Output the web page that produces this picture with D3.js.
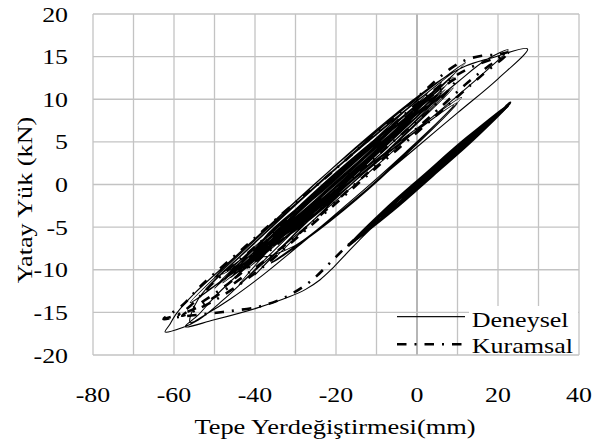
<!DOCTYPE html>
<html>
<head>
<meta charset="utf-8">
<script src="https://cdn.jsdelivr.net/npm/d3@7"></script>
<style>
  body { margin: 0; background: #fff; }
</style>
</head>
<body>
<div id="chart"></div>
<script>
// Axis values
const xGridValues = [-80, -70, -60, -50, -40, -30, -20, -10, 0, 10, 20, 30, 40];
const xTickLabels = [-80, -60, -40, -20, 0, 20, 40];
const yTickLabels = [-20, -15, -10, -5, 0, 5, 10, 15, 20];

// Deneysel (experimental): early small cycles, then push to negative side
const deneyselBand = [
  [0, -0.1], [8, 3.5], [14, 5.75],
  [8, 2.95], [0, -0.4], [-8, -3.75], [-12, -5.11],
  [-5, -1.85], [5, 2.3], [14, 6.05], [18, 7.42],
  [10, 3.8], [0, -0.4], [-10, -4.55], [-14, -5.95],
  [-5, -1.85], [5, 2.3], [15, 6.45], [21, 8.67],
  [12, 4.6], [0, -0.45], [-10, -4.6], [-16, -6.78],
  [-6, -2.25], [6, 2.75], [16, 6.9], [23, 9.5],
  [14, 5.4], [2, 0.4], [-8, -3.8], [-17, -7.2],
  [-8, -3.0], [2, 1.2], [12, 5.35], [23, 9.5],
  [14, 5.3], [4, 1.1], [-6, -3.05], [-17, -7.2],
  [-8, -2.9], [2, 1.3], [12, 5.45], [23, 9.5],
  [14, 5.2], [4, 1.0], [-6, -3.15], [-17, -7.2],
  [-8, -3.25], [2, 0.95], [12, 5.1], [23, 9.5],
  [12, 4.7], [2, 0.5], [-8, -3.65], [-17, -7.2],
  [-8, -3.35], [2, 0.85], [12, 5.0], [22.8, 9.45],
  [12, 4.8], [2, 0.6], [-8, -3.55], [-17, -7.2],
  [-7, -2.7], [5, 2.35], [15, 6.5], [22.5, 9.29],
  [13, 5.0], [0, -0.45], [-10.8, -4.95]
];
const deneyselBackbone = [
  [-15, -6.9], [-18, -8.4], [-21, -9.9], [-24, -11.2], [-27.5, -12.3],
  [-31.4, -13.15], [-39.6, -14.5], [-50.3, -15.9], [-57.3, -16.7]
];
const deneyselCycles = [
  [[-54, -15.3], [-50, -13.2], [-40, -8.7], [-30, -4.4], [-20, -0.2], [-10, 3.9], [0, 8.0], [10, 12.0], [17, 14.6], [22.5, 15.8],
   [17, 13.3], [10, 10.4], [0, 6.4], [-10, 2.2], [-20, -1.9], [-30, -6.0], [-40, -10.1], [-48, -13.6], [-54, -15.9], [-58, -16.8], [-62.2, -17.3]],
  [[-61, -16.4], [-59.5, -15.2], [-55, -12.8], [-45, -8.5], [-35, -4.2], [-26, -0.3], [-15, 4.4], [-5, 8.4], [5, 12.0], [12, 13.9], [18, 14.8], [27.3, 15.9],
   [20, 12.4], [10, 8.4], [0, 4.4], [-10, 0.4], [-20, -3.6], [-29, -7.1], [-38, -10.6], [-46, -13.4], [-52, -15.2], [-56, -16.2]],
  [[-54, -13.44], [-38, -5.95], [-22, 1.1], [-6, 7.49], [10, 13.44], [-6, 5.95], [-22, -1.1], [-38, -7.49]],
  [[-56, -13.86], [-39, -6.09], [-22, 1.05], [-5, 8.19], [12, 14.3], [-5, 6.93], [-22, -0.21], [-39, -7.35]],
  [[-50, -12.18], [-35.25, -5.29], [-20.5, 1.21], [-5.75, 7.11], [9, 12.6], [-5.75, 5.71], [-20.5, -0.79], [-35.25, -6.69]],
  [[-48, -11.55], [-34.25, -5.22], [-20.5, 0.8], [-6.75, 6.34], [7, 11.55], [-6.75, 5.22], [-20.5, -0.8], [-34.25, -6.34]],
  [[-46, -10.92], [-33, -4.83], [-20, 0.9], [-7, 6.09], [6, 10.92], [-7, 4.83], [-20, -0.9], [-33, -6.09]],
  [[-52, -12.39], [-37.5, -5.74], [-23, 0.59], [-8.5, 6.44], [6, 11.97], [-8.5, 5.32], [-23, -1.01], [-37.5, -6.86]],
  [[-45, -9.87], [-32.75, -4.31], [-20.5, 1.02], [-8.25, 5.99], [4, 10.71], [-8.25, 5.15], [-20.5, -0.18], [-32.75, -5.15]],
  [[-47, -10.92], [-34, -5.18], [-21, 0.4], [-8, 5.74], [5, 10.92], [-8, 5.18], [-21, -0.4], [-34, -5.74]],
  [[-48, -10.5], [-35.25, -4.66], [-22.5, 0.91], [-9.75, 6.06], [3, 10.92], [-9.75, 5.08], [-22.5, -0.49], [-35.25, -5.64]],
  [[-44, -10.29], [-31.5, -4.72], [-19, 0.66], [-6.5, 5.78], [6, 10.71], [-6.5, 5.14], [-19, -0.24], [-31.5, -5.36]],
  [[-44, -10.5], [-31.75, -4.8], [-19.5, 0.59], [-7.25, 5.5], [5, 10.08], [-7.25, 4.38], [-19.5, -1.01], [-31.75, -5.92]],
  [[-46, -10.08], [-33.5, -4.48], [-21, 0.92], [-8.5, 6.02], [4, 10.92], [-8.5, 5.32], [-21, -0.08], [-33.5, -5.18]],
  [[-50, -10.92], [-37, -5.04], [-24, 0.6], [-11, 5.88], [2, 10.92], [-11, 5.04], [-24, -0.6], [-37, -5.88]],
  [[-42, -9.24], [-30.75, -4.24], [-19.5, 0.61], [-8.25, 5.22], [3, 9.66], [-8.25, 4.66], [-19.5, -0.19], [-30.75, -4.8]],
  [[-49, -11.55], [-35, -5.32], [-21, 0.71], [-7, 6.44], [7, 11.97], [-7, 5.74], [-21, -0.29], [-35, -6.02]],
  [[-43, -9.87], [-30.5, -4.2], [-18, 1.23], [-5.5, 6.3], [7, 11.13], [-5.5, 5.46], [-18, 0.03], [-30.5, -5.04]],
  [[-40, -9.03], [-28.5, -3.88], [-17, 1.08], [-5.5, 5.78], [6, 10.29], [-5.5, 5.14], [-17, 0.18], [-28.5, -4.52]],
  [[-42, -9.87], [-29.5, -3.99], [-17, 1.53], [-4.5, 6.51], [8, 11.13], [-4.5, 5.25], [-17, -0.27], [-29.5, -5.25]],
  [[-41, -8.61], [-29.75, -3.54], [-18.5, 1.34], [-7.25, 5.92], [4, 10.29], [-7.25, 5.22], [-18.5, 0.34], [-29.75, -4.24]],
  [[-44, -11.8], [-30.25, -5.4], [-16.5, 0.4], [-2.75, 5.6], [11, 10.2], [-2.75, 3.8], [-16.5, -2.0], [-30.25, -7.2]],
  [[-38, -8.4], [-26.75, -3.19], [-14.5, 2.17], [-2.25, 7.11], [9, 11.34], [-2.25, 6.13], [-14.5, 0.77], [-26.75, -4.17]],
  [[-40, -10.6], [-27.5, -4.6], [-15, 0.8], [-2.5, 5.5], [10, 9.6], [-2.5, 3.6], [-15, -1.8], [-27.5, -6.5]],
  [[-36, -9.2], [-24.75, -3.8], [-13.5, 1.15], [-2.25, 5.5], [9, 9.3], [-2.25, 3.9], [-13.5, -1.05], [-24.75, -5.4], [-36, -9.2]]
];

// Kuramsal (theoretical)
const kuramsalBand = [
  [0, -0.1], [12, 4.9], [23, 9.5], [10, 4.0], [0, -0.3], [-10, -4.4], [-17, -7.2],
  [-8, -3.4], [4, 1.6], [16, 6.6], [23, 9.6], [12, 4.8], [0, -0.3], [-12, -5.2], [-17, -7.1],
  [-6, -2.6], [6, 2.5], [18, 7.5], [23, 9.5], [14, 5.6], [2, 0.6], [-10, -4.5], [-17, -7.1]
];
const kuramsalBackbone = [
  [-21.5, -9.2], [-26.4, -11.4], [-32.2, -13.15], [-38.8, -14.3], [-47, -14.9],
  [-54.4, -15.3], [-60, -15.6], [-62.6, -15.8]
];
const kuramsalCycles = [
  [[-58, -14.2], [-53.6, -12], [-42, -7.1], [-30.5, -2.3], [-24.5, 0], [-9, 6.5], [0, 10.2], [8, 13.5], [12, 14.6], [16, 15.1], [20, 15.25], [22.5, 15.5],
   [18, 14.0], [12.6, 12.0], [5, 8.7], [0, 6.6], [-15.4, 0], [-30, -6.1], [-42, -10.5], [-50, -13.2], [-56, -14.8], [-62, -15.7]],
  [[-58, -15.0], [-50, -11.4], [-40, -7.3], [-30, -3.1], [-22.5, 0], [-10, 5.2], [0, 9.5], [8, 12.3], [14, 13.9], [20, 14.9], [22, 15.2],
   [16, 12.8], [10, 10.3], [0, 6.1], [-10, 2.0], [-20, -2.2], [-30, -6.4], [-40, -10.4], [-50, -13.6], [-58, -15.4]],
  [[-45, -11], [-35, -5.5], [-20, 0.9], [-5, 7.0], [5, 10.9], [10, 12.5], [5, 9.6], [-5, 5.4], [-20, -0.9], [-35, -7.2], [-45, -11]]
];

const legendItems = ["Deneysel", "Kuramsal"];

// Layout
const W = 592, H = 444;
const plot = { left: 93, right: 579, top: 14, bottom: 355 };
const stretch = 1.23; // text in the original is a bit wider than plain Times
const serif = '"Liberation Serif"';

const svg = d3.select("#chart")
  .append("svg")
  .attr("width", W)
  .attr("height", H);

const x = d3.scaleLinear().domain([-80, 40]).range([plot.left, plot.right]);
const y = d3.scaleLinear().domain([-20, 20]).range([plot.bottom, plot.top]);

// Widen glyphs with textLength instead of a scale transform
function widen(sel, factor, anchor) {
  sel.each(function () {
    const t = d3.select(this);
    const w = this.getComputedTextLength() * factor;
    const x0 = +t.attr("x");
    t.attr("textLength", w)
      .attr("lengthAdjust", "spacingAndGlyphs")
      .attr("x", anchor === "middle" ? x0 - w / 2 : anchor === "end" ? x0 - w : x0);
  });
}

// Grid
svg.append("g")
  .selectAll("line")
  .data(xGridValues)
  .join("line")
  .attr("x1", d => x(d)).attr("x2", d => x(d))
  .attr("y1", plot.top).attr("y2", plot.bottom)
  .attr("stroke", d => d === 0 ? "#8f8f8f" : "#c3c3c3")
  .attr("stroke-width", 1.3);

svg.append("g")
  .selectAll("line")
  .data(yTickLabels)
  .join("line")
  .attr("x1", plot.left).attr("x2", plot.right)
  .attr("y1", d => y(d)).attr("y2", d => y(d))
  .attr("stroke", "#c3c3c3")
  .attr("stroke-width", 1.3);

// Tick labels
svg.append("g")
  .selectAll("text")
  .data(xTickLabels)
  .join("text")
  .attr("x", d => x(d))
  .attr("y", 402)
  .style("font-family", serif)
  .style("font-size", "21px")
  .text(d => d)
  .call(widen, stretch, "middle");

svg.append("g")
  .selectAll("text")
  .data(yTickLabels)
  .join("text")
  .attr("x", 68)
  .attr("y", d => y(d) + 7.5)
  .style("font-family", serif)
  .style("font-size", "21px")
  .text(d => d)
  .call(widen, stretch, "end");

// Axis titles
svg.append("text")
  .attr("x", 335)
  .attr("y", 434)
  .style("font-family", serif)
  .style("font-size", "22px")
  .text("Tepe Yerdeğiştirmesi(mm)")
  .call(widen, 1.2, "middle");

svg.append("g")
  .attr("transform", "translate(32,200) rotate(-90)")
  .append("text")
  .attr("x", 0)
  .attr("y", 0)
  .style("font-family", serif)
  .style("font-size", "22px")
  .text("Yatay Yük (kN)")
  .call(widen, 1.19, "middle");

// Curves
const line = d3.line()
  .x(d => x(d[0]))
  .y(d => y(d[1]))
  .curve(d3.curveCatmullRom.alpha(0.5));

const deneysel = deneyselBand.concat(deneyselBackbone, ...deneyselCycles);
const kuramsal = kuramsalBand.concat(kuramsalBackbone, ...kuramsalCycles);

svg.append("path")
  .datum(deneysel)
  .attr("d", line)
  .attr("fill", "none")
  .attr("stroke", "#000")
  .attr("stroke-width", 1.1);

svg.append("path")
  .datum(kuramsal)
  .attr("d", line)
  .attr("fill", "none")
  .attr("stroke", "#000")
  .attr("stroke-width", 2.6)
  .attr("stroke-dasharray", "9.5,8,2,8");

// Legend
const legend = svg.append("g");

legend.append("rect")
  .attr("x", 469).attr("y", 306)
  .attr("width", 109).attr("height", 48)
  .attr("fill", "#fff");

legend.append("line")
  .attr("x1", 397).attr("x2", 465)
  .attr("y1", 316.7).attr("y2", 316.7)
  .attr("stroke", "#111").attr("stroke-width", 1.2);

legend.append("line")
  .attr("x1", 397).attr("x2", 465)
  .attr("y1", 344.3).attr("y2", 344.3)
  .attr("stroke", "#000").attr("stroke-width", 2.6)
  .attr("stroke-dasharray", "9.5,8,2,8");

legend.selectAll("text.leg")
  .data(legendItems)
  .join("text")
  .attr("class", "leg")
  .attr("x", 471.7)
  .attr("y", (d, i) => 326.5 + i * 26)
  .style("font-family", serif)
  .style("font-size", "21px")
  .text(d => d)
  .call(widen, 1.24, "start");
</script>
</body>
</html>
